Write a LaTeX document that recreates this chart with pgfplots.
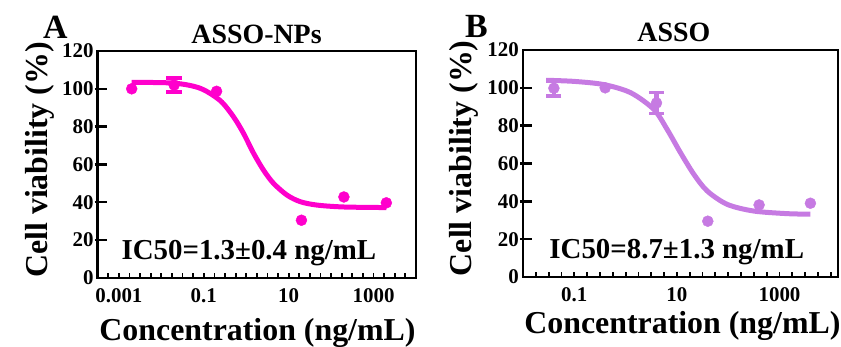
\documentclass[border=0pt]{standalone}
\usepackage{pgfplots}
\pgfplotsset{compat=1.18}
\usepackage{fontspec}
\setmainfont{Liberation Serif}
\definecolor{pinkA}{RGB}{255,0,204}
\definecolor{purpB}{RGB}{198,122,226}
\newcommand{\fs}[1]{\fontsize{#1}{#1}\selectfont\bfseries}
\begin{document}
\begin{tikzpicture}
\useasboundingbox (0,0) rectangle (841bp,347bp);
% Panel A
\begin{axis}[
  scale only axis,
  xmode=log,
  at={(97.7bp,69.1bp)}, anchor=south west,
  width=318.3bp, height=226.9bp,
  xmin=3.16228e-4, xmax=10000,
  ymin=0, ymax=120,
  ytick={0,20,...,120},
  tick align=inside,
  xtick pos=left, ytick pos=left,
  major tick length=0pt,
  axis line style={line width=2.2bp},
  /pgf/number format/assume math mode=true,
  tick label style={font=\fs{21}},
  yticklabel style={inner sep=0pt, xshift=-4bp},
  xticklabel style={inner sep=0pt, yshift=-10bp},
  xtick={0.001,0.1,10,1000},
  xticklabels={0.001,0.1,10,1000},
  minor xtick={},
  clip=false,
  title={ASSO-NPs},
  ylabel={Cell viability (\%)},
  xlabel={Concentration (ng/mL)},
  every axis title/.style={anchor=base, font=\fs{28}, at={(axis description cs:0.499,1.034)}},
  every axis y label/.style={rotate=90, anchor=base, font=\fs{32}, at={(axis description cs:-0.159,0.52)}},
  every axis x label/.style={anchor=base, font=\fs{32}, at={(axis description cs:0.502,-0.274)}},
]
\draw[line width=2.4bp] (rel axis cs:0,0) rectangle (rel axis cs:1,1);
\pgfplotsinvokeforeach{0.16667,0.33333,0.5,0.66667,0.83333}{
  \draw[line width=2.4bp] ([xshift=-3bp]rel axis cs:0,#1) -- ([xshift=9bp]rel axis cs:0,#1);
}
\pgfplotsinvokeforeach{0.03333,0.06667,0.1,0.13333,0.16667,0.2,0.23333,0.26667,0.3,0.33333,0.36667,0.4,0.43333,0.46667,0.5,0.53333,0.56667,0.6,0.63333,0.66667,0.7,0.73333,0.76667,0.8,0.83333,0.86667,0.9,0.93333,0.96667}{
  \draw[line width=1.8bp] (rel axis cs:#1,0) -- ([yshift=5bp]rel axis cs:#1,0);
}
\addplot[pinkA, line width=5bp, smooth] coordinates {
 (0.001995,103.4) (0.01995,103.0) (0.08185,100.3) (0.2427,93.8) (0.5012,85.2)
 (0.8610,76.5) (1.4825,66.0) (2.5527,57.0) (4.3954,50.0) (9.1201,43.8)
 (18.793,40.3) (46.774,38.5) (199.53,37.5) (1995.3,37.2)
};
\addplot[only marks, mark=*, mark size=5.5bp, pinkA] coordinates {
 (0.002,100.0) (0.2,98.7) (20,30.5) (200,42.8) (2000,39.7)
};
\addplot[only marks, mark=*, mark size=5.5bp, pinkA,
  error bars/.cd, y dir=both, y explicit,
  error bar style={line width=4.5bp, pinkA},
  error mark options={rotate=90, mark size=8bp, line width=3.5bp, pinkA}]
 coordinates { (0.02,102.0) +- (0,3.7) };
\node[anchor=base, font=\fs{29}] at (axis description cs:0.475,0.082) {IC50=1.3±0.4 ng/mL};
\end{axis}
% Panel B
\begin{axis}[
  scale only axis,
  xmode=log,
  at={(523bp,70bp)}, anchor=south west,
  width=315bp, height=227bp,
  xmin=0.01, xmax=13800,
  ymin=0, ymax=120,
  ytick={0,20,...,120},
  tick align=inside,
  xtick pos=left, ytick pos=left,
  major tick length=0pt,
  axis line style={line width=2.2bp},
  /pgf/number format/assume math mode=true,
  tick label style={font=\fs{21}},
  yticklabel style={inner sep=0pt, xshift=-4bp},
  xticklabel style={inner sep=0pt, yshift=-10bp},
  xtick={0.1,10,1000},
  xticklabels={0.1,10,1000},
  minor xtick={},
  clip=false,
  title={ASSO},
  ylabel={Cell viability (\%)},
  xlabel={Concentration (ng/mL)},
  every axis title/.style={anchor=base, font=\fs{28}, at={(axis description cs:0.479,1.036)}},
  every axis y label/.style={rotate=90, anchor=base, font=\fs{32}, at={(axis description cs:-0.165,0.523)}},
  every axis x label/.style={anchor=base, font=\fs{32}, at={(axis description cs:0.506,-0.248)}},
]
\draw[line width=2.4bp] (rel axis cs:0,0) rectangle (rel axis cs:1,1);
\pgfplotsinvokeforeach{0.16667,0.33333,0.5,0.66667,0.83333}{
  \draw[line width=2.4bp] ([xshift=-3bp]rel axis cs:0,#1) -- ([xshift=9bp]rel axis cs:0,#1);
}
\pgfplotsinvokeforeach{0.04072,0.08143,0.12215,0.16287,0.20358,0.2443,0.28502,0.32573,0.36645,0.40717,0.44788,0.4886,0.52932,0.57003,0.61075,0.65147,0.69218,0.7329,0.77362,0.81433,0.85505,0.89577,0.93648,0.9772}{
  \draw[line width=1.8bp] (rel axis cs:#1,0) -- ([yshift=5bp]rel axis cs:#1,0);
}
\addplot[purpB, line width=5bp, smooth] coordinates {
 (0.0282,104.0) (0.1,103.4) (0.380,101.7) (1.259,97.4) (3.548,88.6)
 (6.457,78.0) (11.75,65.7) (21.38,54.3) (38.90,45.5) (95.50,38.4)
 (309.0,34.9) (1380,33.5) (3981,33.2)
};
\addplot[only marks, mark=*, mark size=5.5bp, purpB] coordinates {
 (0.4,100.0) (40,29.5) (400,38.1) (4000,39.0)
};
\addplot[only marks, mark=*, mark size=5.5bp, purpB,
  error bars/.cd, y dir=both, y explicit,
  error bar style={line width=4.5bp, purpB},
  error mark options={rotate=90, mark size=7.5bp, line width=3.5bp, purpB}]
 coordinates { (0.04,99.8) +- (0,4.2) (4,92.0) +- (0,5.6) };
\node[anchor=base, font=\fs{29}] at (axis description cs:0.488,0.082) {IC50=8.7±1.3 ng/mL};
\end{axis}
\node[anchor=base west, inner sep=0pt, font=\fs{34}] at (43bp,308.5bp) {A};
\node[anchor=base west, inner sep=0pt, font=\fs{34}] at (465bp,309bp) {B};
\end{tikzpicture}
\end{document}
